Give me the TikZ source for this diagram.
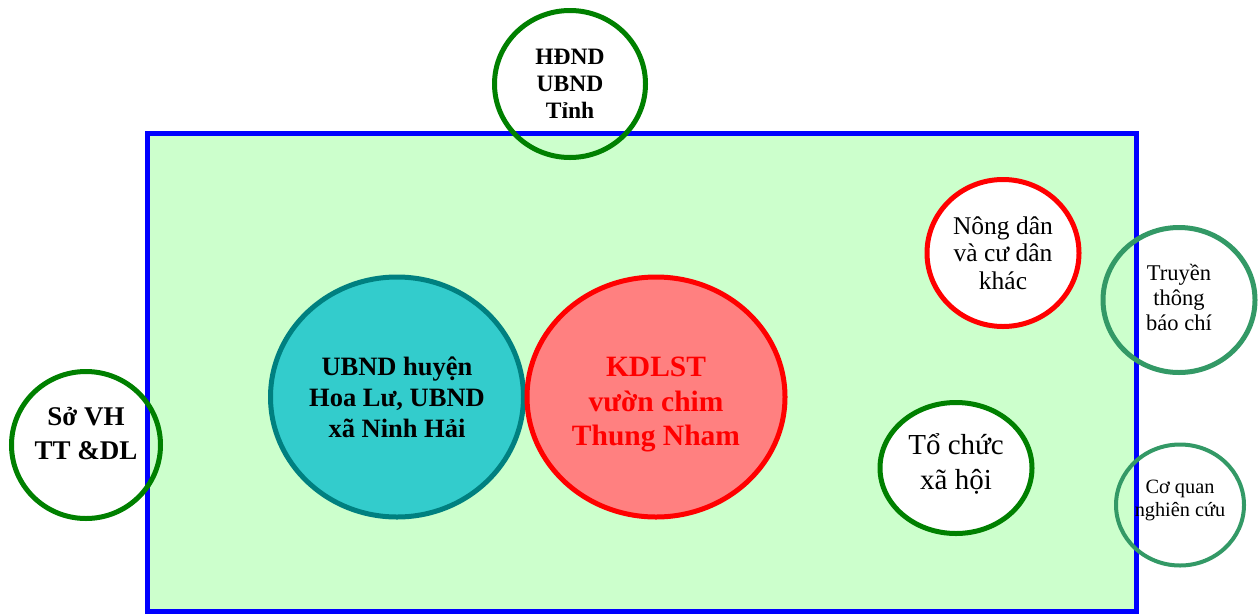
\documentclass[tikz,border=0pt]{standalone}
\usepackage{fontspec}
\setmainfont{Liberation Serif}
\usepackage{tikz}
\usetikzlibrary{shapes.geometric}
\definecolor{areagreen}{HTML}{CCFFCC}
\definecolor{darkgreen}{HTML}{008000}
\definecolor{seagreen}{HTML}{339966}
\definecolor{tealline}{HTML}{008080}
\definecolor{tealfill}{HTML}{33CCCC}
\definecolor{pinkfill}{HTML}{FF8080}
\tikzstyle{actor} = [
    ellipse,
    draw,
    line width=5pt,
    inner sep=0pt,
    align=center
]

\begin{document}
\begin{tikzpicture}[x=1pt, y=-1pt]
\useasboundingbox (0,0) rectangle (1258,614);

\draw[blue, fill=areagreen, line width=5pt] (147,133) rectangle (1136,611);

\node [actor,
    draw=darkgreen,
    minimum width=151pt,
    minimum height=147pt,
    font=\bfseries\fontsize{23.5}{27}\selectfont
] (tinh) at (570,84) {HĐND\\UBND\\Tỉnh};

\node [actor,
    draw=darkgreen,
    minimum width=149pt,
    minimum height=147pt,
    font=\bfseries\fontsize{27}{34}\selectfont
] (so) at (86,445) {Sở VH\\TT \&DL\\[-10pt]};

\node [actor,
    draw=tealline,
    fill=tealfill,
    minimum width=253pt,
    minimum height=240pt,
    font=\bfseries\fontsize{26.5}{31}\selectfont
] (huyen) at (397,397) {UBND huyện\\Hoa Lư, UBND\\xã Ninh Hải};

\node [actor,
    draw=red,
    fill=pinkfill,
    text=red,
    minimum width=258pt,
    minimum height=240pt,
    font=\bfseries\fontsize{29.5}{34.5}\selectfont
] (kdlst) at (656,397) {KDLST\\vườn chim\\Thung Nham\\[-43.5pt]};

\node [actor,
    draw=red,
    fill=white,
    minimum width=152pt,
    minimum height=147pt,
    font=\fontsize{25.5}{27.5}\selectfont
] (nongdan) at (1003,253) {Nông dân\\và cư dân\\khác};

\node [actor,
    draw=darkgreen,
    fill=white,
    minimum width=152pt,
    minimum height=131pt,
    font=\fontsize{29}{35}\selectfont
] (tochuc) at (956,468) {Tổ chức\\xã hội\\[-21pt]};

\node [actor,
    draw=seagreen,
    minimum width=152pt,
    minimum height=145pt,
    font=\fontsize{22.5}{25}\selectfont
] (truyenthong) at (1179,300) {Truyền\\thông\\báo chí\\[-19pt]};

\node [actor,
    draw=seagreen,
    line width=4pt,
    minimum width=128pt,
    minimum height=121pt,
    font=\fontsize{20.3}{23}\selectfont
] (coquan) at (1180,505) {Cơ quan\\nghiên cứu\\[-10pt]};

\end{tikzpicture}
\end{document}
